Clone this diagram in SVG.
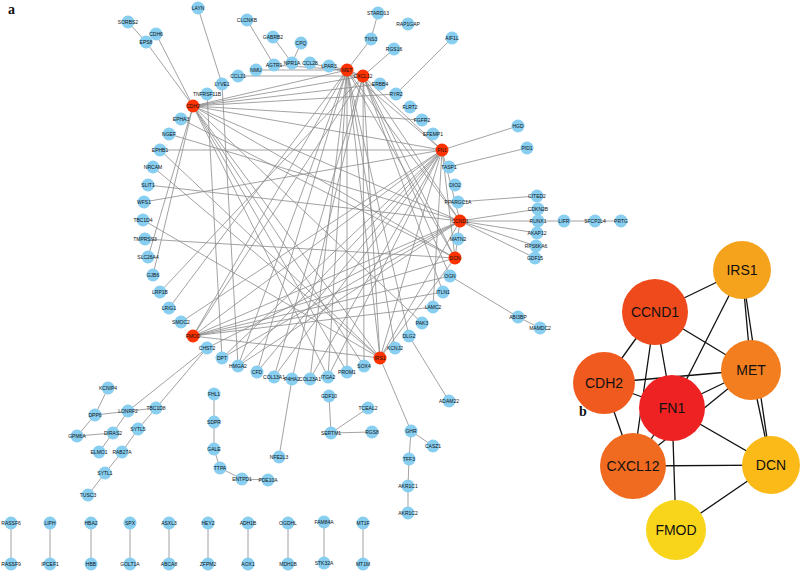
<svg xmlns="http://www.w3.org/2000/svg" width="800" height="579" viewBox="0 0 800 579">
<style>
.e line{stroke:#8c8c8c;stroke-width:0.8}
.eb line{stroke:#111;stroke-width:1.3}
.n circle{fill:#87CEF0}
.h circle{fill:#FF3300}
.n text,.h text{font-family:"Liberation Sans",Arial,sans-serif;font-size:5px;text-anchor:middle;fill:#111}
.b text{font-family:"Liberation Sans",Arial,sans-serif;font-size:14px;text-anchor:middle;fill:#111}
.lab{font-family:"Liberation Serif","Times New Roman",serif;font-weight:bold;font-size:14px;fill:#111}
</style>
<rect width="800" height="579" fill="#fff"/>
<g id="edges-a" class="e">
<line x1="128" y1="22" x2="146" y2="42"/>
<line x1="146" y1="42" x2="193" y2="106"/>
<line x1="156" y1="34" x2="193" y2="106"/>
<line x1="198" y1="8" x2="222" y2="84"/>
<line x1="247" y1="20" x2="274" y2="65"/>
<line x1="273" y1="37" x2="292" y2="63"/>
<line x1="301" y1="43" x2="292" y2="63"/>
<line x1="378" y1="13" x2="371" y2="39"/>
<line x1="371" y1="39" x2="347" y2="70"/>
<line x1="394" y1="49" x2="363" y2="76"/>
<line x1="452" y1="38" x2="396" y2="94"/>
<line x1="518" y1="126" x2="442" y2="150"/>
<line x1="527" y1="148" x2="449" y2="167"/>
<line x1="537" y1="196" x2="458" y2="202"/>
<line x1="460" y1="221" x2="538" y2="209"/>
<line x1="460" y1="221" x2="538" y2="221"/>
<line x1="460" y1="221" x2="537" y2="233"/>
<line x1="460" y1="221" x2="536" y2="246"/>
<line x1="460" y1="221" x2="535" y2="258"/>
<line x1="538" y1="221" x2="621" y2="221"/>
<line x1="450" y1="276" x2="518" y2="317"/>
<line x1="518" y1="317" x2="540" y2="328"/>
<line x1="409" y1="336" x2="449" y2="401"/>
<line x1="380" y1="358" x2="411" y2="431"/>
<line x1="411" y1="431" x2="433" y2="446"/>
<line x1="411" y1="431" x2="409" y2="459"/>
<line x1="409" y1="459" x2="408" y2="486"/>
<line x1="408" y1="486" x2="408" y2="513"/>
<line x1="292" y1="379" x2="279" y2="457"/>
<line x1="329" y1="396" x2="331" y2="433"/>
<line x1="331" y1="433" x2="368" y2="408"/>
<line x1="331" y1="433" x2="372" y2="432"/>
<line x1="214" y1="394" x2="214" y2="449"/>
<line x1="214" y1="449" x2="220" y2="468"/>
<line x1="220" y1="468" x2="242" y2="479"/>
<line x1="242" y1="479" x2="268" y2="480"/>
<line x1="207" y1="348" x2="128" y2="411"/>
<line x1="207" y1="348" x2="156" y2="408"/>
<line x1="108" y1="388" x2="95" y2="415"/>
<line x1="95" y1="415" x2="156" y2="408"/>
<line x1="95" y1="415" x2="77" y2="436"/>
<line x1="77" y1="436" x2="113" y2="433"/>
<line x1="113" y1="433" x2="128" y2="411"/>
<line x1="113" y1="433" x2="99" y2="452"/>
<line x1="156" y1="408" x2="138" y2="429"/>
<line x1="138" y1="429" x2="122" y2="452"/>
<line x1="122" y1="452" x2="105" y2="473"/>
<line x1="105" y1="473" x2="88" y2="495"/>
<line x1="11" y1="523" x2="11" y2="564"/>
<line x1="50" y1="523" x2="50" y2="564"/>
<line x1="91" y1="523" x2="91" y2="564"/>
<line x1="130" y1="523" x2="130" y2="564"/>
<line x1="169" y1="523" x2="169" y2="564"/>
<line x1="208" y1="523" x2="208" y2="564"/>
<line x1="248" y1="523" x2="248" y2="564"/>
<line x1="288" y1="523" x2="288" y2="564"/>
<line x1="324" y1="522" x2="324" y2="563"/>
<line x1="363" y1="523" x2="363" y2="564"/>
<line x1="193" y1="106" x2="347" y2="70"/>
<line x1="193" y1="106" x2="363" y2="76"/>
<line x1="193" y1="106" x2="442" y2="150"/>
<line x1="193" y1="106" x2="460" y2="221"/>
<line x1="193" y1="106" x2="380" y2="358"/>
<line x1="193" y1="106" x2="455" y2="258"/>
<line x1="193" y1="106" x2="380" y2="84"/>
<line x1="193" y1="106" x2="422" y2="120"/>
<line x1="193" y1="106" x2="396" y2="94"/>
<line x1="193" y1="106" x2="153" y2="275"/>
<line x1="193" y1="106" x2="148" y2="257"/>
<line x1="193" y1="106" x2="422" y2="323"/>
<line x1="193" y1="106" x2="328" y2="377"/>
<line x1="193" y1="106" x2="347" y2="372"/>
<line x1="193" y1="106" x2="364" y2="366"/>
<line x1="193" y1="336" x2="347" y2="70"/>
<line x1="193" y1="336" x2="363" y2="76"/>
<line x1="193" y1="336" x2="442" y2="150"/>
<line x1="193" y1="336" x2="460" y2="221"/>
<line x1="193" y1="336" x2="455" y2="258"/>
<line x1="193" y1="336" x2="380" y2="358"/>
<line x1="193" y1="336" x2="450" y2="276"/>
<line x1="193" y1="336" x2="443" y2="292"/>
<line x1="193" y1="336" x2="433" y2="307"/>
<line x1="347" y1="70" x2="363" y2="76"/>
<line x1="347" y1="70" x2="442" y2="150"/>
<line x1="347" y1="70" x2="460" y2="221"/>
<line x1="347" y1="70" x2="380" y2="358"/>
<line x1="347" y1="70" x2="455" y2="258"/>
<line x1="347" y1="70" x2="256" y2="70"/>
<line x1="347" y1="70" x2="274" y2="65"/>
<line x1="347" y1="70" x2="329" y2="66"/>
<line x1="347" y1="70" x2="169" y2="308"/>
<line x1="347" y1="70" x2="395" y2="348"/>
<line x1="347" y1="70" x2="328" y2="377"/>
<line x1="347" y1="70" x2="347" y2="372"/>
<line x1="347" y1="70" x2="238" y2="366"/>
<line x1="347" y1="70" x2="257" y2="372"/>
<line x1="347" y1="70" x2="409" y2="336"/>
<line x1="347" y1="70" x2="310" y2="379"/>
<line x1="363" y1="76" x2="238" y2="76"/>
<line x1="363" y1="76" x2="310" y2="63"/>
<line x1="363" y1="76" x2="442" y2="150"/>
<line x1="363" y1="76" x2="460" y2="221"/>
<line x1="363" y1="76" x2="455" y2="258"/>
<line x1="363" y1="76" x2="380" y2="358"/>
<line x1="363" y1="76" x2="160" y2="292"/>
<line x1="363" y1="76" x2="450" y2="276"/>
<line x1="363" y1="76" x2="364" y2="366"/>
<line x1="363" y1="76" x2="292" y2="379"/>
<line x1="363" y1="76" x2="274" y2="377"/>
<line x1="363" y1="76" x2="443" y2="292"/>
<line x1="442" y1="150" x2="160" y2="150"/>
<line x1="442" y1="150" x2="144" y2="202"/>
<line x1="442" y1="150" x2="460" y2="221"/>
<line x1="442" y1="150" x2="455" y2="258"/>
<line x1="442" y1="150" x2="380" y2="358"/>
<line x1="442" y1="150" x2="328" y2="377"/>
<line x1="442" y1="150" x2="433" y2="307"/>
<line x1="442" y1="150" x2="274" y2="377"/>
<line x1="442" y1="150" x2="310" y2="379"/>
<line x1="442" y1="150" x2="257" y2="372"/>
<line x1="442" y1="150" x2="181" y2="322"/>
<line x1="442" y1="150" x2="238" y2="366"/>
<line x1="442" y1="150" x2="222" y2="358"/>
<line x1="460" y1="221" x2="455" y2="258"/>
<line x1="460" y1="221" x2="380" y2="358"/>
<line x1="460" y1="221" x2="148" y2="185"/>
<line x1="460" y1="221" x2="169" y2="134"/>
<line x1="460" y1="221" x2="207" y2="348"/>
<line x1="460" y1="221" x2="222" y2="358"/>
<line x1="460" y1="221" x2="238" y2="366"/>
<line x1="455" y1="258" x2="380" y2="358"/>
<line x1="455" y1="258" x2="145" y2="239"/>
<line x1="455" y1="258" x2="181" y2="119"/>
<line x1="380" y1="358" x2="153" y2="167"/>
<line x1="380" y1="358" x2="143" y2="220"/>
<line x1="380" y1="358" x2="160" y2="150"/>
<line x1="222" y1="358" x2="207" y2="94"/>
<line x1="238" y1="366" x2="222" y2="84"/>
</g>
<g id="nodes-a">
<g id="n-CDH2" class="h"><circle cx="193" cy="106" r="6.5"/><text x="193" y="107.8">CDH2</text></g>
<g id="n-TNFRSF11B" class="n"><circle cx="207" cy="94" r="6.5"/><text x="207" y="95.8">TNFRSF11B</text></g>
<g id="n-LYVE1" class="n"><circle cx="222" cy="84" r="6.5"/><text x="222" y="85.8">LYVE1</text></g>
<g id="n-CCL21" class="n"><circle cx="238" cy="76" r="6.5"/><text x="238" y="77.8">CCL21</text></g>
<g id="n-NMU" class="n"><circle cx="256" cy="70" r="6.5"/><text x="256" y="71.8">NMU</text></g>
<g id="n-AGTR1" class="n"><circle cx="274" cy="65" r="6.5"/><text x="274" y="66.8">AGTR1</text></g>
<g id="n-NPR1A" class="n"><circle cx="292" cy="63" r="6.5"/><text x="292" y="64.8">NPR1A</text></g>
<g id="n-CCL28" class="n"><circle cx="310" cy="63" r="6.5"/><text x="310" y="64.8">CCL28</text></g>
<g id="n-LPAR3" class="n"><circle cx="329" cy="66" r="6.5"/><text x="329" y="67.8">LPAR3</text></g>
<g id="n-MET" class="h"><circle cx="347" cy="70" r="6.5"/><text x="347" y="71.8">MET</text></g>
<g id="n-CXCL12" class="h"><circle cx="363" cy="76" r="6.5"/><text x="363" y="77.8">CXCL12</text></g>
<g id="n-ERBB4" class="n"><circle cx="380" cy="84" r="6.5"/><text x="380" y="85.8">ERBB4</text></g>
<g id="n-RYR2" class="n"><circle cx="396" cy="94" r="6.5"/><text x="396" y="95.8">RYR2</text></g>
<g id="n-FLRT2" class="n"><circle cx="410" cy="107" r="6.5"/><text x="410" y="108.8">FLRT2</text></g>
<g id="n-FGFR2" class="n"><circle cx="422" cy="120" r="6.5"/><text x="422" y="121.8">FGFR2</text></g>
<g id="n-EFEMP1" class="n"><circle cx="433" cy="134" r="6.5"/><text x="433" y="135.8">EFEMP1</text></g>
<g id="n-FN1" class="h"><circle cx="442" cy="150" r="6.5"/><text x="442" y="151.8">FN1</text></g>
<g id="n-TASP1" class="n"><circle cx="449" cy="167" r="6.5"/><text x="449" y="168.8">TASP1</text></g>
<g id="n-DIO2" class="n"><circle cx="455" cy="185" r="6.5"/><text x="455" y="186.8">DIO2</text></g>
<g id="n-PPARGC1A" class="n"><circle cx="458" cy="202" r="6.5"/><text x="458" y="203.8">PPARGC1A</text></g>
<g id="n-CCND1" class="h"><circle cx="460" cy="221" r="6.5"/><text x="460" y="222.8">CCND1</text></g>
<g id="n-MATN2" class="n"><circle cx="458" cy="239" r="6.5"/><text x="458" y="240.8">MATN2</text></g>
<g id="n-DCN" class="h"><circle cx="455" cy="258" r="6.5"/><text x="455" y="259.8">DCN</text></g>
<g id="n-OGN" class="n"><circle cx="450" cy="276" r="6.5"/><text x="450" y="277.8">OGN</text></g>
<g id="n-ITLN1" class="n"><circle cx="443" cy="292" r="6.5"/><text x="443" y="293.8">ITLN1</text></g>
<g id="n-LAMC2" class="n"><circle cx="433" cy="307" r="6.5"/><text x="433" y="308.8">LAMC2</text></g>
<g id="n-PAK3" class="n"><circle cx="422" cy="323" r="6.5"/><text x="422" y="324.8">PAK3</text></g>
<g id="n-DLG2" class="n"><circle cx="409" cy="336" r="6.5"/><text x="409" y="337.8">DLG2</text></g>
<g id="n-KCNJ2" class="n"><circle cx="395" cy="348" r="6.5"/><text x="395" y="349.8">KCNJ2</text></g>
<g id="n-IRS1" class="h"><circle cx="380" cy="358" r="6.5"/><text x="380" y="359.8">IRS1</text></g>
<g id="n-SOX4" class="n"><circle cx="364" cy="366" r="6.5"/><text x="364" y="367.8">SOX4</text></g>
<g id="n-PROM1" class="n"><circle cx="347" cy="372" r="6.5"/><text x="347" y="373.8">PROM1</text></g>
<g id="n-ITGA2" class="n"><circle cx="328" cy="377" r="6.5"/><text x="328" y="378.8">ITGA2</text></g>
<g id="n-COL23A1" class="n"><circle cx="310" cy="379" r="6.5"/><text x="310" y="380.8">COL23A1</text></g>
<g id="n-P4HA2" class="n"><circle cx="292" cy="379" r="6.5"/><text x="292" y="380.8">P4HA2</text></g>
<g id="n-COL13A1" class="n"><circle cx="274" cy="377" r="6.5"/><text x="274" y="378.8">COL13A1</text></g>
<g id="n-CFD" class="n"><circle cx="257" cy="372" r="6.5"/><text x="257" y="373.8">CFD</text></g>
<g id="n-HMGA2" class="n"><circle cx="238" cy="366" r="6.5"/><text x="238" y="367.8">HMGA2</text></g>
<g id="n-DPT" class="n"><circle cx="222" cy="358" r="6.5"/><text x="222" y="359.8">DPT</text></g>
<g id="n-CHST2" class="n"><circle cx="207" cy="348" r="6.5"/><text x="207" y="349.8">CHST2</text></g>
<g id="n-FMOD" class="h"><circle cx="193" cy="336" r="6.5"/><text x="193" y="337.8">FMOD</text></g>
<g id="n-SMOC2" class="n"><circle cx="181" cy="322" r="6.5"/><text x="181" y="323.8">SMOC2</text></g>
<g id="n-LRIG1" class="n"><circle cx="169" cy="308" r="6.5"/><text x="169" y="309.8">LRIG1</text></g>
<g id="n-LRP1B" class="n"><circle cx="160" cy="292" r="6.5"/><text x="160" y="293.8">LRP1B</text></g>
<g id="n-GJB6" class="n"><circle cx="153" cy="275" r="6.5"/><text x="153" y="276.8">GJB6</text></g>
<g id="n-SLC26A4" class="n"><circle cx="148" cy="257" r="6.5"/><text x="148" y="258.8">SLC26A4</text></g>
<g id="n-TMPRSS3" class="n"><circle cx="145" cy="239" r="6.5"/><text x="145" y="240.8">TMPRSS3</text></g>
<g id="n-TBC1D4" class="n"><circle cx="143" cy="220" r="6.5"/><text x="143" y="221.8">TBC1D4</text></g>
<g id="n-WFS1" class="n"><circle cx="144" cy="202" r="6.5"/><text x="144" y="203.8">WFS1</text></g>
<g id="n-SLIT1" class="n"><circle cx="148" cy="185" r="6.5"/><text x="148" y="186.8">SLIT1</text></g>
<g id="n-NRCAM" class="n"><circle cx="153" cy="167" r="6.5"/><text x="153" y="168.8">NRCAM</text></g>
<g id="n-EPHB1" class="n"><circle cx="160" cy="150" r="6.5"/><text x="160" y="151.8">EPHB1</text></g>
<g id="n-NGEF" class="n"><circle cx="169" cy="134" r="6.5"/><text x="169" y="135.8">NGEF</text></g>
<g id="n-EPHA3" class="n"><circle cx="181" cy="119" r="6.5"/><text x="181" y="120.8">EPHA3</text></g>
<g id="n-SORBS2" class="n"><circle cx="128" cy="22" r="6.5"/><text x="128" y="23.8">SORBS2</text></g>
<g id="n-CDH6" class="n"><circle cx="156" cy="34" r="6.5"/><text x="156" y="35.8">CDH6</text></g>
<g id="n-EPS8" class="n"><circle cx="146" cy="42" r="6.5"/><text x="146" y="43.8">EPS8</text></g>
<g id="n-LAYN" class="n"><circle cx="198" cy="8" r="6.5"/><text x="198" y="9.8">LAYN</text></g>
<g id="n-CLCNKB" class="n"><circle cx="247" cy="20" r="6.5"/><text x="247" y="21.8">CLCNKB</text></g>
<g id="n-GABRB2" class="n"><circle cx="273" cy="37" r="6.5"/><text x="273" y="38.8">GABRB2</text></g>
<g id="n-CPQ" class="n"><circle cx="301" cy="43" r="6.5"/><text x="301" y="44.8">CPQ</text></g>
<g id="n-TNS3" class="n"><circle cx="371" cy="39" r="6.5"/><text x="371" y="40.8">TNS3</text></g>
<g id="n-STARD13" class="n"><circle cx="378" cy="13" r="6.5"/><text x="378" y="14.8">STARD13</text></g>
<g id="n-RAP1GAP" class="n"><circle cx="408" cy="24" r="6.5"/><text x="408" y="25.8">RAP1GAP</text></g>
<g id="n-RGS16" class="n"><circle cx="394" cy="49" r="6.5"/><text x="394" y="50.8">RGS16</text></g>
<g id="n-AIF1L" class="n"><circle cx="452" cy="38" r="6.5"/><text x="452" y="39.8">AIF1L</text></g>
<g id="n-HGD" class="n"><circle cx="518" cy="126" r="6.5"/><text x="518" y="127.8">HGD</text></g>
<g id="n-PID1" class="n"><circle cx="527" cy="148" r="6.5"/><text x="527" y="149.8">PID1</text></g>
<g id="n-CITED2" class="n"><circle cx="537" cy="196" r="6.5"/><text x="537" y="197.8">CITED2</text></g>
<g id="n-CDKN2B" class="n"><circle cx="538" cy="209" r="6.5"/><text x="538" y="210.8">CDKN2B</text></g>
<g id="n-RUNX1" class="n"><circle cx="538" cy="221" r="6.5"/><text x="538" y="222.8">RUNX1</text></g>
<g id="n-AKAP12" class="n"><circle cx="537" cy="233" r="6.5"/><text x="537" y="234.8">AKAP12</text></g>
<g id="n-RPS6KA6" class="n"><circle cx="536" cy="246" r="6.5"/><text x="536" y="247.8">RPS6KA6</text></g>
<g id="n-GDF15" class="n"><circle cx="535" cy="258" r="6.5"/><text x="535" y="259.8">GDF15</text></g>
<g id="n-LIFR" class="n"><circle cx="564" cy="221" r="6.5"/><text x="564" y="222.8">LIFR</text></g>
<g id="n-SFCP2L4" class="n"><circle cx="595" cy="221" r="6.5"/><text x="595" y="222.8">SFCP2L4</text></g>
<g id="n-PRTG" class="n"><circle cx="621" cy="221" r="6.5"/><text x="621" y="222.8">PRTG</text></g>
<g id="n-ABI3BP" class="n"><circle cx="518" cy="317" r="6.5"/><text x="518" y="318.8">ABI3BP</text></g>
<g id="n-MAMDC2" class="n"><circle cx="540" cy="328" r="6.5"/><text x="540" y="329.8">MAMDC2</text></g>
<g id="n-ADAM22" class="n"><circle cx="449" cy="401" r="6.5"/><text x="449" y="402.8">ADAM22</text></g>
<g id="n-GHR" class="n"><circle cx="411" cy="431" r="6.5"/><text x="411" y="432.8">GHR</text></g>
<g id="n-CASZ1" class="n"><circle cx="433" cy="446" r="6.5"/><text x="433" y="447.8">CASZ1</text></g>
<g id="n-TFF3" class="n"><circle cx="409" cy="459" r="6.5"/><text x="409" y="460.8">TFF3</text></g>
<g id="n-AKR1C1" class="n"><circle cx="408" cy="486" r="6.5"/><text x="408" y="487.8">AKR1C1</text></g>
<g id="n-AKR1C2" class="n"><circle cx="408" cy="513" r="6.5"/><text x="408" y="514.8">AKR1C2</text></g>
<g id="n-NFE2L3" class="n"><circle cx="279" cy="457" r="6.5"/><text x="279" y="458.8">NFE2L3</text></g>
<g id="n-GDF10" class="n"><circle cx="329" cy="396" r="6.5"/><text x="329" y="397.8">GDF10</text></g>
<g id="n-SERTM1" class="n"><circle cx="331" cy="433" r="6.5"/><text x="331" y="434.8">SERTM1</text></g>
<g id="n-TCEAL2" class="n"><circle cx="368" cy="408" r="6.5"/><text x="368" y="409.8">TCEAL2</text></g>
<g id="n-RGS8" class="n"><circle cx="372" cy="432" r="6.5"/><text x="372" y="433.8">RGS8</text></g>
<g id="n-FHL1" class="n"><circle cx="214" cy="394" r="6.5"/><text x="214" y="395.8">FHL1</text></g>
<g id="n-SDPR" class="n"><circle cx="214" cy="422" r="6.5"/><text x="214" y="423.8">SDPR</text></g>
<g id="n-GALE" class="n"><circle cx="214" cy="449" r="6.5"/><text x="214" y="450.8">GALE</text></g>
<g id="n-TTPA" class="n"><circle cx="220" cy="468" r="6.5"/><text x="220" y="469.8">TTPA</text></g>
<g id="n-ENTPD1" class="n"><circle cx="242" cy="479" r="6.5"/><text x="242" y="480.8">ENTPD1</text></g>
<g id="n-PDE10A" class="n"><circle cx="268" cy="480" r="6.5"/><text x="268" y="481.8">PDE10A</text></g>
<g id="n-KCNIP4" class="n"><circle cx="108" cy="388" r="6.5"/><text x="108" y="389.8">KCNIP4</text></g>
<g id="n-DPP6" class="n"><circle cx="95" cy="415" r="6.5"/><text x="95" y="416.8">DPP6</text></g>
<g id="n-GPM6A" class="n"><circle cx="77" cy="436" r="6.5"/><text x="77" y="437.8">GPM6A</text></g>
<g id="n-LONRF2" class="n"><circle cx="128" cy="411" r="6.5"/><text x="128" y="412.8">LONRF2</text></g>
<g id="n-TBC1D8" class="n"><circle cx="156" cy="408" r="6.5"/><text x="156" y="409.8">TBC1D8</text></g>
<g id="n-SYTL5" class="n"><circle cx="138" cy="429" r="6.5"/><text x="138" y="430.8">SYTL5</text></g>
<g id="n-DIRAS2" class="n"><circle cx="113" cy="433" r="6.5"/><text x="113" y="434.8">DIRAS2</text></g>
<g id="n-ELMO1" class="n"><circle cx="99" cy="452" r="6.5"/><text x="99" y="453.8">ELMO1</text></g>
<g id="n-RAB27A" class="n"><circle cx="122" cy="452" r="6.5"/><text x="122" y="453.8">RAB27A</text></g>
<g id="n-SYTL1" class="n"><circle cx="105" cy="473" r="6.5"/><text x="105" y="474.8">SYTL1</text></g>
<g id="n-TUSC3" class="n"><circle cx="88" cy="495" r="6.5"/><text x="88" y="496.8">TUSC3</text></g>
<g id="n-RASSF6" class="n"><circle cx="11" cy="523" r="6.5"/><text x="11" y="524.8">RASSF6</text></g>
<g id="n-RASSF9" class="n"><circle cx="11" cy="564" r="6.5"/><text x="11" y="565.8">RASSF9</text></g>
<g id="n-LIPH" class="n"><circle cx="50" cy="523" r="6.5"/><text x="50" y="524.8">LIPH</text></g>
<g id="n-IPCEF1" class="n"><circle cx="50" cy="564" r="6.5"/><text x="50" y="565.8">IPCEF1</text></g>
<g id="n-HBA2" class="n"><circle cx="91" cy="523" r="6.5"/><text x="91" y="524.8">HBA2</text></g>
<g id="n-HBB" class="n"><circle cx="91" cy="564" r="6.5"/><text x="91" y="565.8">HBB</text></g>
<g id="n-SPX" class="n"><circle cx="130" cy="523" r="6.5"/><text x="130" y="524.8">SPX</text></g>
<g id="n-GOLT1A" class="n"><circle cx="130" cy="564" r="6.5"/><text x="130" y="565.8">GOLT1A</text></g>
<g id="n-ASXL3" class="n"><circle cx="169" cy="523" r="6.5"/><text x="169" y="524.8">ASXL3</text></g>
<g id="n-ABCA8" class="n"><circle cx="169" cy="564" r="6.5"/><text x="169" y="565.8">ABCA8</text></g>
<g id="n-HEY2" class="n"><circle cx="208" cy="523" r="6.5"/><text x="208" y="524.8">HEY2</text></g>
<g id="n-ZFPM2" class="n"><circle cx="208" cy="564" r="6.5"/><text x="208" y="565.8">ZFPM2</text></g>
<g id="n-ADH1B" class="n"><circle cx="248" cy="523" r="6.5"/><text x="248" y="524.8">ADH1B</text></g>
<g id="n-AOX1" class="n"><circle cx="248" cy="564" r="6.5"/><text x="248" y="565.8">AOX1</text></g>
<g id="n-OGDHL" class="n"><circle cx="288" cy="523" r="6.5"/><text x="288" y="524.8">OGDHL</text></g>
<g id="n-MDH1B" class="n"><circle cx="288" cy="564" r="6.5"/><text x="288" y="565.8">MDH1B</text></g>
<g id="n-FAM84A" class="n"><circle cx="324" cy="522" r="6.5"/><text x="324" y="523.8">FAM84A</text></g>
<g id="n-STK32A" class="n"><circle cx="324" cy="563" r="6.5"/><text x="324" y="564.8">STK32A</text></g>
<g id="n-MT1F" class="n"><circle cx="363" cy="523" r="6.5"/><text x="363" y="524.8">MT1F</text></g>
<g id="n-MT1M" class="n"><circle cx="363" cy="564" r="6.5"/><text x="363" y="565.8">MT1M</text></g>
</g>
<g id="edges-b" class="eb">
<line x1="742" y1="270" x2="655" y2="312"/>
<line x1="742" y1="270" x2="751" y2="370"/>
<line x1="742" y1="270" x2="672" y2="408"/>
<line x1="742" y1="270" x2="771" y2="465"/>
<line x1="655" y1="312" x2="604" y2="383"/>
<line x1="655" y1="312" x2="672" y2="408"/>
<line x1="655" y1="312" x2="751" y2="370"/>
<line x1="655" y1="312" x2="633" y2="466"/>
<line x1="604" y1="383" x2="672" y2="408"/>
<line x1="604" y1="383" x2="751" y2="370"/>
<line x1="604" y1="383" x2="633" y2="466"/>
<line x1="672" y1="408" x2="751" y2="370"/>
<line x1="672" y1="408" x2="633" y2="466"/>
<line x1="672" y1="408" x2="676" y2="530"/>
<line x1="672" y1="408" x2="771" y2="465"/>
<line x1="751" y1="370" x2="633" y2="466"/>
<line x1="751" y1="370" x2="771" y2="465"/>
<line x1="633" y1="466" x2="771" y2="465"/>
<line x1="676" y1="530" x2="771" y2="465"/>
</g>
<g id="nodes-b" class="b">
<g id="b-IRS1"><circle cx="742" cy="270" r="29" fill="#F5A21C"/><text x="742" y="275">IRS1</text></g>
<g id="b-CCND1"><circle cx="655" cy="312" r="33" fill="#EF4A1B"/><text x="655" y="317">CCND1</text></g>
<g id="b-MET"><circle cx="751" cy="370" r="30" fill="#F37E20"/><text x="751" y="375">MET</text></g>
<g id="b-CDH2"><circle cx="604" cy="383" r="31" fill="#F05A1F"/><text x="604" y="388">CDH2</text></g>
<g id="b-FN1"><circle cx="672" cy="408" r="33" fill="#EE2222"/><text x="672" y="413">FN1</text></g>
<g id="b-CXCL12"><circle cx="633" cy="466" r="33" fill="#F06A20"/><text x="633" y="471">CXCL12</text></g>
<g id="b-DCN"><circle cx="771" cy="465" r="29" fill="#FBBA18"/><text x="771" y="470">DCN</text></g>
<g id="b-FMOD"><circle cx="676" cy="530" r="30" fill="#F8D51B"/><text x="676" y="535">FMOD</text></g>
</g>
<text class="lab" x="8" y="14">a</text>
<text class="lab" x="579" y="416">b</text>
</svg>
